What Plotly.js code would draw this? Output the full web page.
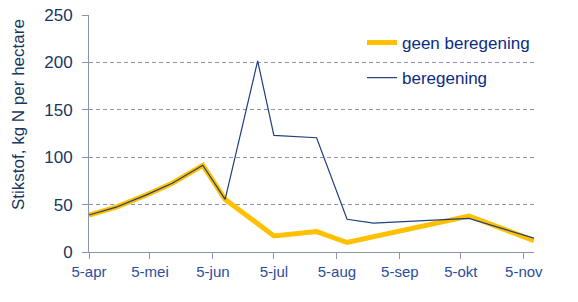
<!DOCTYPE html>
<html>
<head>
<meta charset="utf-8">
<script src="https://cdn.plot.ly/plotly-3.0.1.min.js"></script>
<style>html,body{margin:0;padding:0;background:#fff;}#chart{width:578px;height:302px;}</style>
</head>
<body>
<div id="chart"></div>
<script>
// Data
const datesGeen = ['2011-04-05','2011-04-18','2011-05-03','2011-05-16','2011-05-31','2011-06-11','2011-07-05','2011-07-26','2011-08-10','2011-08-23','2011-10-09','2011-11-10'];
const geenBeregening = [39, 47, 60, 72.5, 91.5, 55.5, 17, 21.5, 10, 16, 38, 12];
const datesBer = ['2011-04-05','2011-04-18','2011-05-03','2011-05-16','2011-05-31','2011-06-11','2011-06-27','2011-07-05','2011-07-26','2011-08-10','2011-08-23','2011-10-09','2011-11-10'];
const beregening = [39, 47, 60, 72.5, 91.5, 55.5, 201.5, 123, 120.5, 34.5, 30.5, 35.5, 14.5];
const tickDates = ['2011-04-05','2011-05-05','2011-06-05','2011-07-05','2011-08-05','2011-09-05','2011-10-05','2011-11-05'];
const tickLabels = ['5-apr','5-mei','5-jun','5-jul','5-aug','5-sep','5-okt','5-nov'];
const seriesNames = ['geen beregening','beregening'];
const yTitle = 'Stikstof, kg N per hectare';

const W = 578, H = 302;
const L = 89, R = 44, T = 15, B = 50;
const pw = W - L - R, ph = H - T - B;

const traces = [
  {x: datesGeen, y: geenBeregening, name: seriesNames[0], type: 'scatter', mode: 'lines',
   line: {color: '#FFC000', width: 5}, legendgroup: 'a'},
  {x: datesBer, y: beregening, name: seriesNames[1], type: 'scatter', mode: 'lines',
   line: {color: '#1F3F7F', width: 1.2}, legendgroup: 'b'}
];

const layout = {
  width: W, height: H,
  margin: {l: L, r: R, t: T, b: B},
  paper_bgcolor: '#fff', plot_bgcolor: '#fff',
  font: {family: '"Liberation Sans", Arial, sans-serif'},
  showlegend: true,
  legend: {
    x: (362 - L) / pw, xanchor: 'left',
    y: 1 - (25 - T) / ph, yanchor: 'top',
    font: {size: 17, color: '#0C2C84'},
    bgcolor: 'rgba(0,0,0,0)',
    traceorder: 'grouped', tracegroupgap: 10
  },
  xaxis: {
    type: 'date',
    range: ['2011-04-05', '2011-11-10'],
    tickmode: 'array', tickvals: tickDates, ticktext: tickLabels,
    ticks: 'outside', ticklen: 6, tickcolor: '#8C93AD', tickwidth: 1,
    showline: true, linecolor: '#8C93AD', linewidth: 1,
    showgrid: false, zeroline: false,
    tickfont: {size: 15, color: '#2A4D9B'}
  },
  yaxis: {
    range: [0, 250], dtick: 50, tick0: 0,
    ticks: 'outside', ticklen: 6, tickcolor: '#8C93AD', tickwidth: 1,
    ticklabelstandoff: 6,
    showline: true, linecolor: '#8C93AD', linewidth: 1,
    showgrid: true, gridcolor: '#8C93AD', gridwidth: 1, griddash: '4px,3px',
    zeroline: false,
    tickfont: {size: 17, color: '#17375E'}
  },
  annotations: [{
    text: yTitle, textangle: -90, showarrow: false,
    xref: 'paper', yref: 'paper',
    x: (19 - L) / pw, y: (H - B - 115) / ph,
    xanchor: 'center', yanchor: 'middle',
    font: {size: 17, color: '#17375E'}
  }]
};

Plotly.newPlot('chart', traces, layout, {displayModeBar: false, staticPlot: true});
</script>
</body>
</html>
